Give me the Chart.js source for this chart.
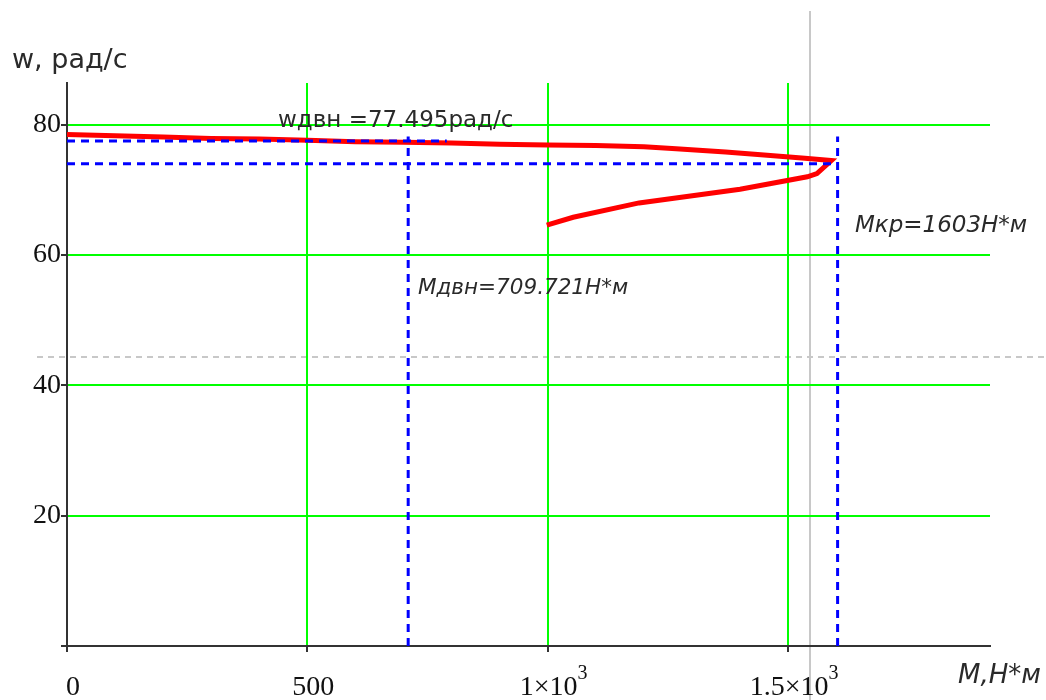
<!DOCTYPE html>
<html>
<head>
<meta charset="utf-8">
<script src="https://cdn.jsdelivr.net/npm/chart.js@4"></script>
<style>
  html, body { margin: 0; padding: 0; background: #ffffff; }
  canvas { display: block; }
</style>
</head>
<body>
<canvas id="chart" width="1046" height="700"></canvas>
<script>
// Mechanical characteristic of the motor: torque M (Н*м) against speed w (рад/с)
const curveM = [0, 100, 200, 300, 400, 500, 600, 700, 800, 900, 1000, 1100, 1200, 1267, 1370, 1450, 1535, 1590,
                1560, 1540, 1400, 1190, 1053, 998];
const curveW = [78.5, 78.3, 78.1, 77.9, 77.8, 77.6, 77.4, 77.3, 77.2, 77.0, 76.9, 76.8, 76.6, 76.3, 75.8, 75.35, 74.85, 74.5,
                72.5, 72.0, 70.1, 68.0, 65.8, 64.6];

// Nominal operating point and breakdown (critical) point
const wDvn = 77.495;      // рад/с
const mDvn = 709.721;     // Н*м
const mKr = 1603;         // Н*м
const wKr = 74.0;         // рад/с
const markerTopW = 78.2;  // upper end of the vertical marker lines
const wDvnLineEndM = 790; // right end of the nominal-speed marker line

// Trace cursor position
const traceM = 1545.6;
const traceW = 44.35;

// Axis ticks
const xTickValues = [0, 500, 1000, 1500];
const xTickBase = ["0", "500", "1×10", "1.5×10"];
const xTickExp = ["", "", "3", "3"];
const yTickValues = [0, 20, 40, 60, 80];
const yTickLabels = ["", "20", "40", "60", "80"];

const xMax = 1920;
const yMax = 86.4;

const pts = (xs, ys) => xs.map((v, i) => ({ x: v, y: ys[i] }));

const BLUE = '#0000ff';
const blueDash = {
  borderColor: BLUE, borderWidth: 3, borderDash: [8, 6],
  pointRadius: 0, showLine: true, fill: false, tension: 0
};

const SANS = '"DejaVu Sans", "Noto Sans", sans-serif';
const SERIF = '"Liberation Serif", "Times New Roman", serif';
const TEXT = '#2a2a2a';

const overlay = {
  id: 'overlay',
  beforeDraw(chart) {
    // trace cursor cross-hair
    const { ctx, scales: { x, y } } = chart;
    ctx.save();
    ctx.strokeStyle = '#c8c8c8';
    ctx.lineWidth = 2;
    const gx = Math.round(x.getPixelForValue(traceM));
    ctx.beginPath(); ctx.moveTo(gx, 11); ctx.lineTo(gx, chart.height); ctx.stroke();
    ctx.setLineDash([6, 5]);
    const gy = Math.round(y.getPixelForValue(traceW));
    ctx.beginPath(); ctx.moveTo(37, gy); ctx.lineTo(chart.width, gy); ctx.stroke();
    ctx.restore();
  },
  afterDraw(chart) {
    const { ctx, scales: { x, y } } = chart;
    ctx.save();
    ctx.textBaseline = 'alphabetic';
    ctx.textAlign = 'left';

    // x tick labels with exponent
    const baseFont = '28px ' + SERIF;
    const expFont = '20px ' + SERIF;
    ctx.fillStyle = '#111111';
    xTickValues.forEach((v, i) => {
      ctx.font = baseFont;
      const wb = ctx.measureText(xTickBase[i]).width;
      ctx.font = expFont;
      const we = xTickExp[i] ? ctx.measureText(xTickExp[i]).width : 0;
      const px = x.getPixelForValue(v);
      const left = px - (wb + we) / 2 + 6;
      ctx.font = baseFont;
      ctx.fillText(xTickBase[i], left, 695);
      if (xTickExp[i]) {
        ctx.font = expFont;
        ctx.fillText(xTickExp[i], left + wb, 679);
      }
    });

    ctx.fillStyle = TEXT;
    // axis titles
    ctx.font = '27px ' + SANS;
    ctx.fillText('w, рад/с', 12, 68);
    ctx.font = 'italic 26px ' + SANS;
    ctx.fillText('М,Н*м', 958, 683);

    // point annotations
    ctx.font = '23px ' + SANS;
    ctx.fillText('wдвн =' + wDvn + 'рад/с', x.getPixelForValue(439), y.getPixelForValue(79.7));
    ctx.font = 'italic 23px ' + SANS;
    ctx.fillText('Мкр=' + mKr + 'Н*м', x.getPixelForValue(1639), y.getPixelForValue(63.6));
    ctx.font = 'italic 21.5px ' + SANS;
    ctx.fillText('Мдвн=' + mDvn + 'Н*м', x.getPixelForValue(730), y.getPixelForValue(54.0));
    ctx.restore();
  }
};

new Chart(document.getElementById('chart'), {
  type: 'scatter',
  data: {
    datasets: [
      Object.assign({ data: pts([0, wDvnLineEndM], [wDvn, wDvn]) }, blueDash),
      Object.assign({ data: pts([0, mKr], [wKr, wKr]) }, blueDash),
      Object.assign({ data: pts([mDvn, mDvn], [0, markerTopW]) }, blueDash),
      Object.assign({ data: pts([mKr, mKr], [0, markerTopW]) }, blueDash),
      {
        data: pts(curveM, curveW),
        borderColor: '#ff0000', borderWidth: 5,
        pointRadius: 0, showLine: true, fill: false, tension: 0
      }
    ]
  },
  options: {
    responsive: false,
    animation: false,
    events: [],
    layout: { padding: { top: 83, right: 56, left: 0, bottom: 0 } },
    plugins: { legend: { display: false }, tooltip: { enabled: false } },
    scales: {
      x: {
        type: 'linear', min: 0, max: xMax,
        afterBuildTicks: s => { s.ticks = xTickValues.map(v => ({ value: v })); },
        afterFit: s => { s.height = 54; },
        ticks: { display: false },
        grid: { color: '#00ff00', lineWidth: 2, tickColor: '#333333', tickLength: 6 },
        border: { color: '#333333', width: 2 }
      },
      y: {
        type: 'linear', min: 0, max: yMax,
        afterBuildTicks: s => { s.ticks = yTickValues.map(v => ({ value: v })); },
        afterFit: s => { s.width = 67; },
        ticks: {
          padding: 0,
          color: '#111111',
          font: { family: SERIF, size: 28 },
          callback: (v) => yTickLabels[yTickValues.indexOf(v)]
        },
        grid: { color: '#00ff00', lineWidth: 2, tickColor: '#333333', tickLength: 6 },
        border: { color: '#333333', width: 2 }
      }
    }
  },
  plugins: [overlay]
});
</script>
</body>
</html>
